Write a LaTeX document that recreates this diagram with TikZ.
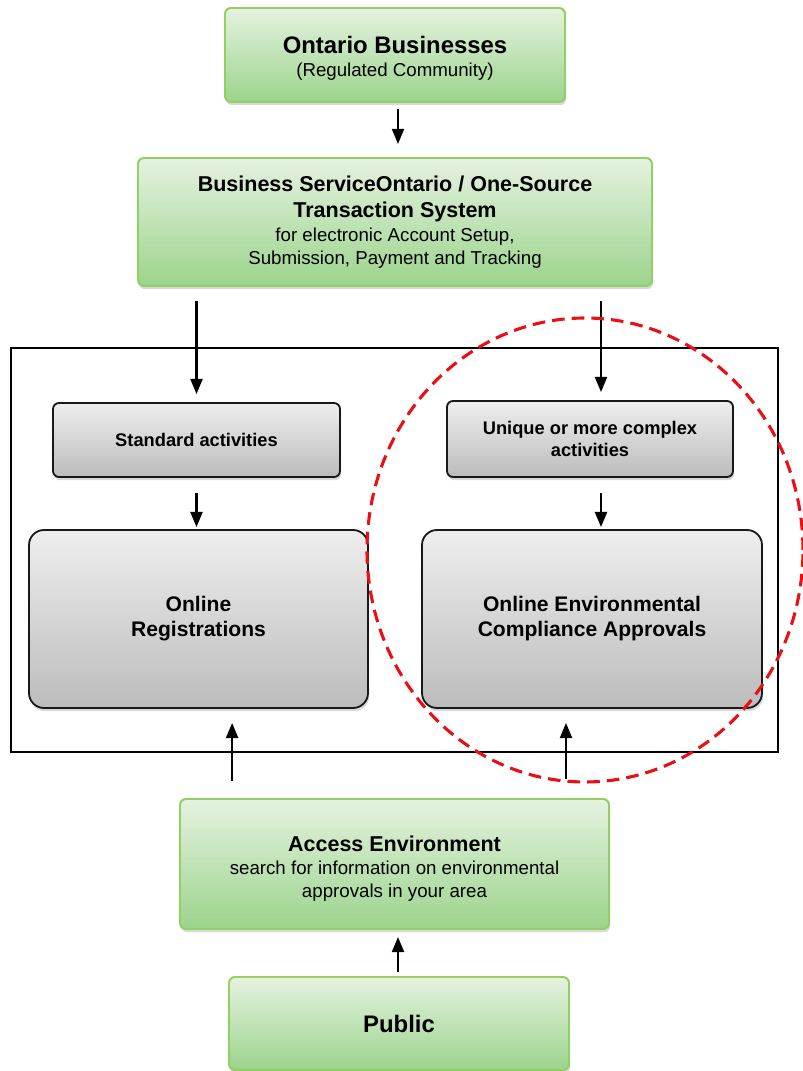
\documentclass[tikz,border=0pt]{standalone}
\usepackage{fontspec}
\setmainfont{Liberation Sans}
\usetikzlibrary{arrows.meta, shadows}

\definecolor{boxgreen}{RGB}{146,208,100}
\definecolor{greentop}{RGB}{229,242,224}
\definecolor{greenbot}{RGB}{155,212,140}
\definecolor{graytop}{RGB}{238,238,238}
\definecolor{graybot}{RGB}{188,188,188}
\definecolor{ringred}{RGB}{232,16,20}

\tikzset{
  greenbox/.style={draw=boxgreen, line width=1.4pt, rounded corners=0.15cm,
    top color=greentop, bottom color=greenbot, inner sep=0pt, align=center,
    font=\fontsize{13.3}{16.4}\selectfont,
    drop shadow={shadow xshift=0.03cm, shadow yshift=-0.08cm, opacity=0.3}},
  graybox/.style={draw=black!90, line width=1.3pt, rounded corners=0.15cm,
    top color=graytop, bottom color=graybot, inner sep=0pt, align=center,
    drop shadow={shadow xshift=0.03cm, shadow yshift=-0.08cm, opacity=0.3}},
  arr/.style={line width=1.6pt, -{Triangle[length=0.38cm,width=0.3cm]}}
}

\begin{document}
\begin{tikzpicture}
\useasboundingbox (0,0) rectangle (20.075,26.775);

\draw[line width=1.2pt] (0.275,18.075) rectangle (19.45,7.975);

\node[greenbox, minimum width=8.5cm, minimum height=2.35cm] (biz) at (9.875,25.4)
  {{\fontsize{17}{20}\selectfont\bfseries\rule{0pt}{17pt}Ontario Businesses}\\[0.5pt](Regulated Community)};
\node[greenbox, minimum width=12.85cm, minimum height=3.2cm] (bso) at (9.875,21.225)
  {{\fontsize{15.3}{18}\selectfont\bfseries Business ServiceOntario / One-Source}\\[2pt]
   {\fontsize{15.3}{18}\selectfont\bfseries Transaction System}\\[0.6pt]
   for electronic Account Setup,\\Submission, Payment and Tracking};

\node[graybox, minimum width=7.175cm, minimum height=1.85cm,
  font=\fontsize{13}{15.6}\selectfont\bfseries] (std) at (4.9125,15.775) {Standard activities};
\node[graybox, minimum width=7.15cm, minimum height=1.9cm,
  font=\fontsize{13}{15.6}\selectfont\bfseries] (uniq) at (14.75,15.8) {Unique or more complex\\activities};

\node[graybox, rounded corners=0.375cm, minimum width=8.475cm, minimum height=4.45cm,
  font=\fontsize{15}{17.8}\selectfont\bfseries] (reg) at (4.9625,11.3) {Online\\Registrations};
\node[graybox, rounded corners=0.375cm, minimum width=8.5cm, minimum height=4.45cm,
  font=\fontsize{15}{17.8}\selectfont\bfseries] (eca) at (14.8,11.3) {Online Environmental\\Compliance Approvals};

\node[greenbox, minimum width=10.725cm, minimum height=3.25cm] (acc) at (9.8625,5.175)
  {{\fontsize{15.3}{18}\selectfont\bfseries\rule{0pt}{18pt}Access Environment}\\
   search for information on environmental\\approvals in your area};
\node[greenbox, minimum width=8.5cm, minimum height=2.325cm,
  font=\fontsize{17}{20}\selectfont\bfseries] (pub) at (9.975,1.1875) {Public};

\draw[arr, shorten <=0.15cm, shorten >=0.325cm] ([xshift=0.075cm]biz.south) -- ([xshift=0.075cm]bso.north);
\draw[arr, shorten <=0.35cm, shorten >=0.2cm] (std.north |- bso.south) -- (std.north);
\draw[arr, shorten <=0.35cm, shorten >=0.2cm] ([xshift=0.275cm]uniq.north |- bso.south) -- ([xshift=0.275cm]uniq.north);
\draw[arr, shorten <=0.375cm, shorten >=0.05cm] (std.south) -- (std.south |- reg.north);
\draw[arr, shorten <=0.375cm, shorten >=0.05cm] ([xshift=0.275cm]uniq.south) -- ([xshift=0.275cm]uniq.south |- eca.north);
\draw[arr, shorten <=0.425cm, shorten >=0.35cm] ([xshift=0.84cm]reg.south |- acc.north) -- ([xshift=0.84cm]reg.south);
\draw[arr, shorten <=0.475cm, shorten >=0.35cm] ([xshift=-0.65cm]eca.south |- acc.north) -- ([xshift=-0.65cm]eca.south);
\draw[arr, shorten <=0.1cm, shorten >=0.175cm] ([xshift=-0.025cm]pub.north) -- ([xshift=-0.025cm]pub.north |- acc.south);

\draw[ringred, line width=2.2pt, dash pattern=on 9pt off 5pt] (14.625,13.025) ellipse [x radius=5.45cm, y radius=5.8cm];
\end{tikzpicture}
\end{document}
